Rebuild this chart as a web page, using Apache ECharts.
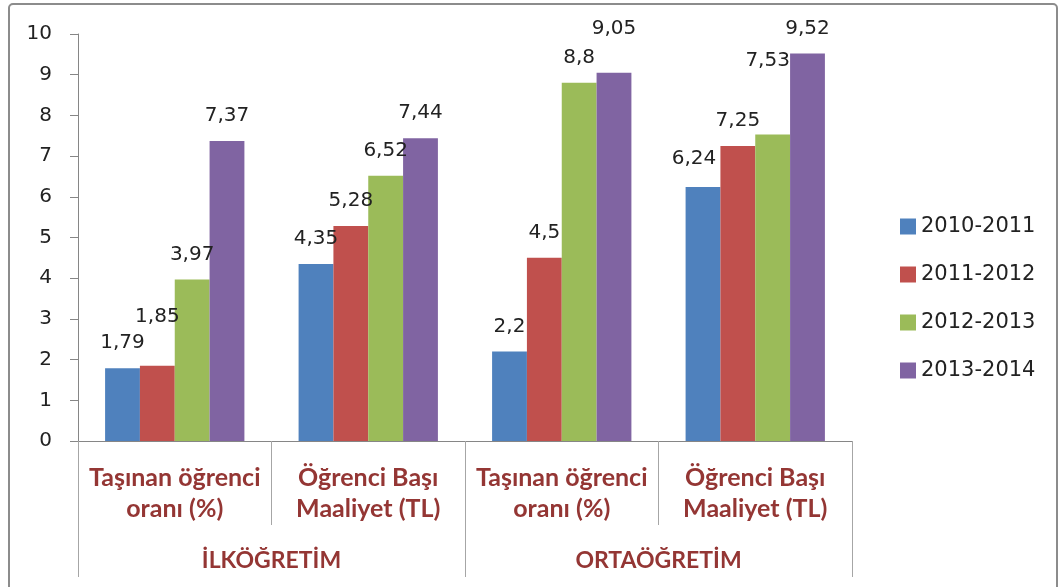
<!DOCTYPE html>
<html>
<head>
<meta charset="utf-8">
<script src="https://cdn.jsdelivr.net/npm/echarts@6/dist/echarts.min.js"></script>
<style>
  html, body { margin: 0; padding: 0; background: #fff; }
  #chart { width: 1064px; height: 587px; }
</style>
</head>
<body>
<div id="chart"></div>
<script>
// alt kategoriler ve gruplar
const categories = ['Taşınan öğrenci\noranı (%)', 'Öğrenci Başı\nMaaliyet (TL)', 'Taşınan öğrenci\noranı (%)', 'Öğrenci Başı\nMaaliyet (TL)'];
const groups = ['İLKÖĞRETİM', 'ORTAÖĞRETİM'];
const seriesNames = ['2010-2011', '2011-2012', '2012-2013', '2013-2014'];

// yıllara göre değerler
const v2010 = [1.79, 4.35, 2.2, 6.24];
const v2011 = [1.85, 5.28, 4.5, 7.25];
const v2012 = [3.97, 6.52, 8.8, 7.53];
const v2013 = [7.37, 7.44, 9.05, 9.52];

const yTicks = [0, 1, 2, 3, 4, 5, 6, 7, 8, 9, 10];

const colors = ['#4F81BD', '#C0504D', '#9BBB59', '#8064A2'];
const allValues = [v2010, v2011, v2012, v2013];

// bazı etiketler üst üste binmesin diye elle kaydırılmış (orijinaldeki gibi)
const nudge = {
  '1-0': [0, -24],
  '3-2': [0, -19],
  '0-3': [-9, -3],
  '2-3': [-5, -49]
};

const chart = echarts.init(document.getElementById('chart'));

const catFont = {
  fontFamily: 'Lato, Liberation Sans',
  fontWeight: 'bold',
  fontSize: 23,
  lineHeight: 31,
  color: '#943634'
};

const option = {
  animation: false,
  graphic: [{
    type: 'rect',
    shape: { x: 9, y: 4, width: 1048, height: 620, r: 4 },
    style: { fill: 'none', stroke: '#8c8c8c', lineWidth: 2 },
    z: -1
  }],
  grid: { left: 78, right: 212, top: 34, bottom: 146 },
  legend: {
    data: seriesNames,
    orient: 'vertical',
    left: 895,
    top: 211,
    icon: 'rect',
    itemWidth: 16,
    itemHeight: 16,
    itemGap: 27,
    textStyle: { fontFamily: 'DejaVu Sans', fontSize: 21, lineHeight: 21, color: '#222' }
  },
  xAxis: [
    {
      type: 'category',
      data: categories,
      position: 'bottom',
      axisLine: { lineStyle: { color: '#868686', width: 1 } },
      axisTick: { show: true, interval: 0, length: 84, lineStyle: { color: '#a6a6a6' } },
      axisLabel: Object.assign({ interval: 0, margin: 21, align: 'center' }, catFont, { fontSize: 25 })
    },
    {
      type: 'category',
      data: groups,
      position: 'bottom',
      axisLine: { show: false },
      axisTick: { show: true, interval: 0, length: 136, lineStyle: { color: '#a6a6a6' } },
      axisLabel: Object.assign({ interval: 0, margin: 104 }, catFont)
    }
  ],
  yAxis: {
    type: 'value',
    min: yTicks[0],
    max: yTicks[yTicks.length - 1],
    interval: 1,
    axisLine: { show: true, lineStyle: { color: '#868686' } },
    axisTick: { show: true, length: 8, lineStyle: { color: '#868686' } },
    splitLine: { show: false },
    axisLabel: { margin: 26, fontFamily: 'DejaVu Sans', fontSize: 20, color: '#222' }
  },
  series: seriesNames.map((name, si) => ({
    name: name,
    type: 'bar',
    xAxisIndex: 0,
    barGap: 0,
    barCategoryGap: '28%',
    itemStyle: { color: colors[si] },
    label: {
      show: true,
      position: 'top',
      distance: 15,
      fontFamily: 'DejaVu Sans',
      fontSize: 20,
      color: '#222',
      formatter: p => String(p.value).replace('.', ',')
    },
    data: allValues[si].map((v, ci) => {
      const off = nudge[si + '-' + ci];
      return off ? { value: v, label: { offset: off } } : v;
    })
  }))
};

chart.setOption(option);
</script>
</body>
</html>
